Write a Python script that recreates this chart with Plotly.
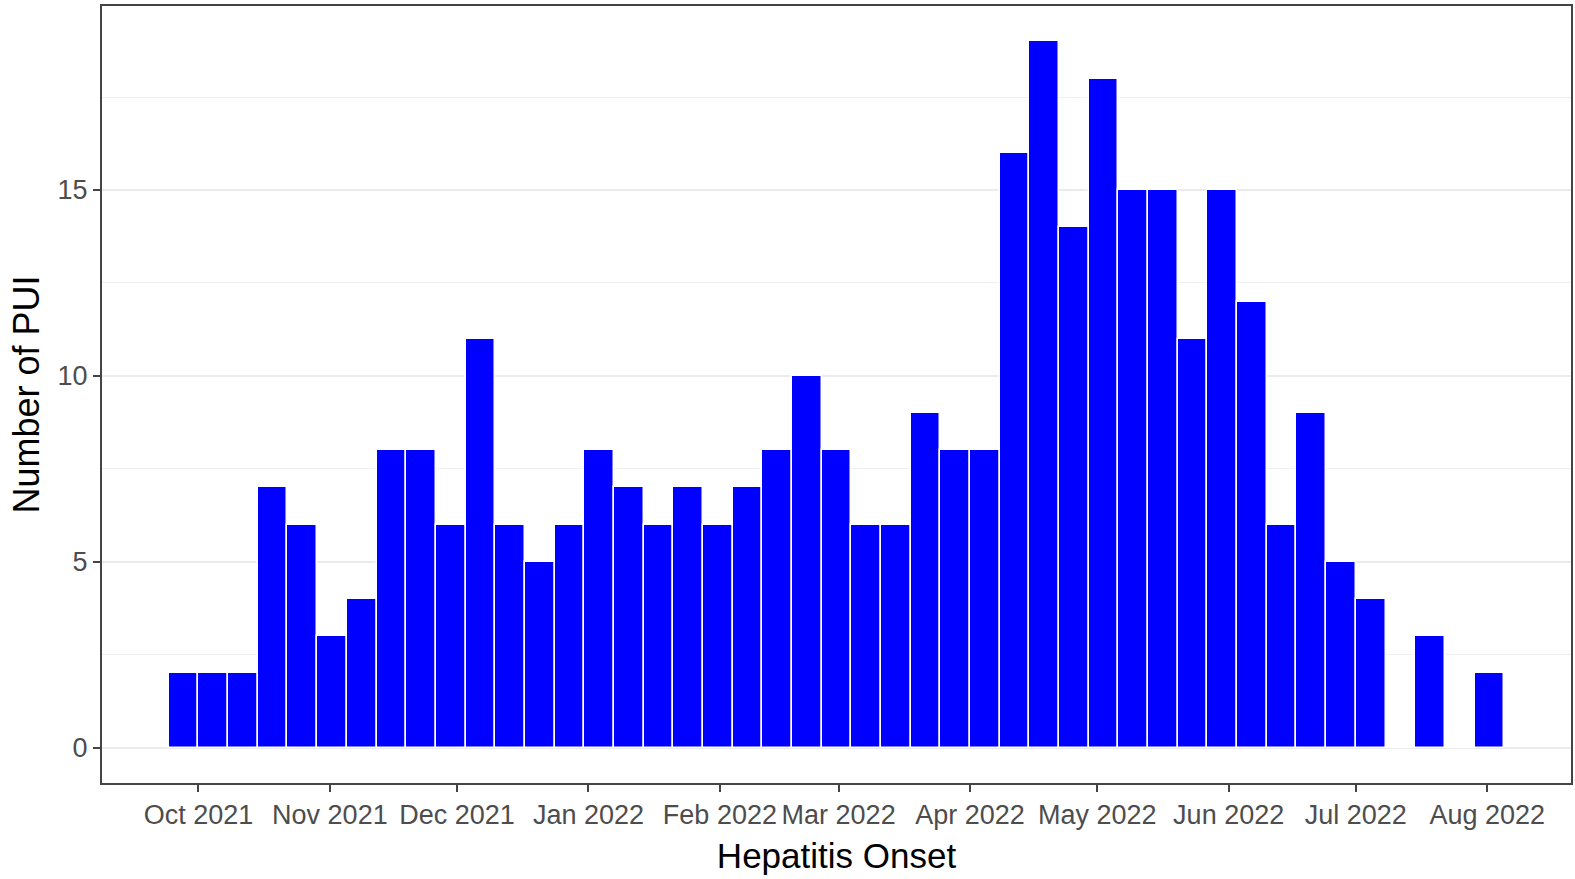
import pandas as pd
import plotly.graph_objects as go

# Weekly counts of PUI by hepatitis onset week (week starting dates)
week_start = pd.date_range("2021-09-24", periods=45, freq="7D")
counts = [2, 2, 2, 7, 6, 3, 4, 8, 8, 6,
          11, 6, 5, 6, 8, 7, 6, 7, 6, 7,
          8, 10, 8, 6, 6, 9, 8, 8, 16, 19,
          14, 18, 15, 15, 11, 15, 12, 6, 9, 5,
          4, 0, 3, 0, 2]
y_ticks = [0, 5, 10, 15]
x_title = "Hepatitis Onset"
y_title = "Number of PUI"

week_ms = 7 * 24 * 3600 * 1000

fig = go.Figure(
    go.Bar(
        x=week_start,
        y=counts,
        width=week_ms,
        offset=0,
        marker=dict(color="#0000FF", line=dict(color="white", width=1.5)),
        showlegend=False,
    )
)

font_family = "Liberation Sans, Arial, sans-serif"
fig.update_layout(
    width=1575,
    height=879,
    margin=dict(l=102, r=4, t=6, b=96, autoexpand=False),
    paper_bgcolor="white",
    plot_bgcolor="white",
    bargap=0,
    font=dict(family=font_family),
)
fig.update_xaxes(
    type="date",
    automargin=False,
    range=["2021-09-08 06:00", "2022-08-20 18:00"],
    tick0="2021-10-01",
    dtick="M1",
    tickformat="%b %Y",
    showgrid=False,
    zeroline=False,
    showline=True,
    mirror=True,
    linecolor="#444444",
    linewidth=2,
    ticks="outside",
    ticklen=7,
    tickwidth=2,
    tickcolor="#444444",
    tickfont=dict(size=27, color="#4D4D4D", family=font_family),
    title=dict(text=x_title, font=dict(size=35, color="black", family=font_family), standoff=14),
)
fig.update_yaxes(
    automargin=False,
    range=[-0.95, 19.95],
    tickvals=y_ticks,
    showgrid=True,
    gridcolor="#EBEBEB",
    gridwidth=1.5,
    minor=dict(dtick=2.5, tick0=0, showgrid=True, gridcolor="#F0F0F0", gridwidth=1),
    zeroline=False,
    showline=True,
    mirror=True,
    linecolor="#444444",
    linewidth=2,
    ticks="outside",
    ticklen=7,
    tickwidth=2,
    tickcolor="#444444",
    tickfont=dict(size=27, color="#4D4D4D", family=font_family),
    title=dict(text=y_title, font=dict(size=36, color="black", family=font_family), standoff=7),
)

fig.write_html(
    "out.html",
    config={"displayModeBar": False},
    post_script="document.body.style.margin='0';",
)
